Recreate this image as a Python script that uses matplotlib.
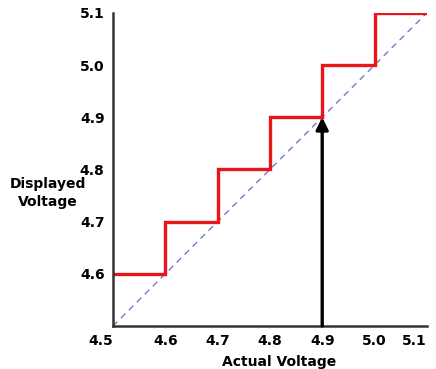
import matplotlib.pyplot as plt
import numpy as np

# 数据
actual = [4.5, 4.6, 4.7, 4.8, 4.9, 5.0, 5.1]
displayed = [4.6, 4.7, 4.8, 4.9, 5.0, 5.1, 5.1]
ideal = [4.5, 5.1]
arrow_x = 4.9
arrow_from, arrow_to = 4.5, 4.9
tick_vals = [4.5, 4.6, 4.7, 4.8, 4.9, 5.0, 5.1]
tick_labels = ['4.5', '4.6', '4.7', '4.8', '4.9', '5.0', '5.1']

font = ['DejaVu Sans']
fs = 10

fig = plt.figure(figsize=(4.36, 3.69), dpi=100)
ax = fig.add_axes([0.259, 0.1165, 0.72, 0.8485])

ax.plot(ideal, ideal, color='#6a6acd', lw=0.9, ls=(0, (5, 4)))
ax.step(actual, displayed, where='post', color='#e8161b', lw=2.4,
        solid_joinstyle='miter')
ax.annotate('', xy=(arrow_x, arrow_to), xytext=(arrow_x, arrow_from),
            arrowprops=dict(arrowstyle='-|>', color='black', lw=2.4,
                            mutation_scale=18, shrinkA=0, shrinkB=0))

ax.set_xlim(4.5, 5.1)
ax.set_ylim(4.5, 5.1)
ax.set_xticks(tick_vals)
ax.set_xticklabels(tick_labels)
ax.set_yticks(tick_vals[1:])
ax.set_yticklabels(tick_labels[1:])
ax.tick_params(length=0, pad=6)
for lab in ax.get_xticklabels() + ax.get_yticklabels():
    lab.set_family(font)
    lab.set_fontweight('bold')
    lab.set_fontsize(fs)
ax.get_xticklabels()[0].set_horizontalalignment('right')
ax.get_xticklabels()[-1].set_horizontalalignment('right')

for s in ['top', 'right']:
    ax.spines[s].set_visible(False)
for s in ['left', 'bottom']:
    ax.spines[s].set_color('#333333')
    ax.spines[s].set_linewidth(1.8)

ax.set_xlabel('Actual Voltage', family=font, fontweight='bold', fontsize=fs)
ax.xaxis.set_label_coords(0.53, -0.092)
fig.text(0.11, 0.477, 'Displayed\nVoltage', family=font, fontweight='bold',
         fontsize=fs, ha='center', va='center', linespacing=1.3)

fig.savefig('out.png', dpi=100)
